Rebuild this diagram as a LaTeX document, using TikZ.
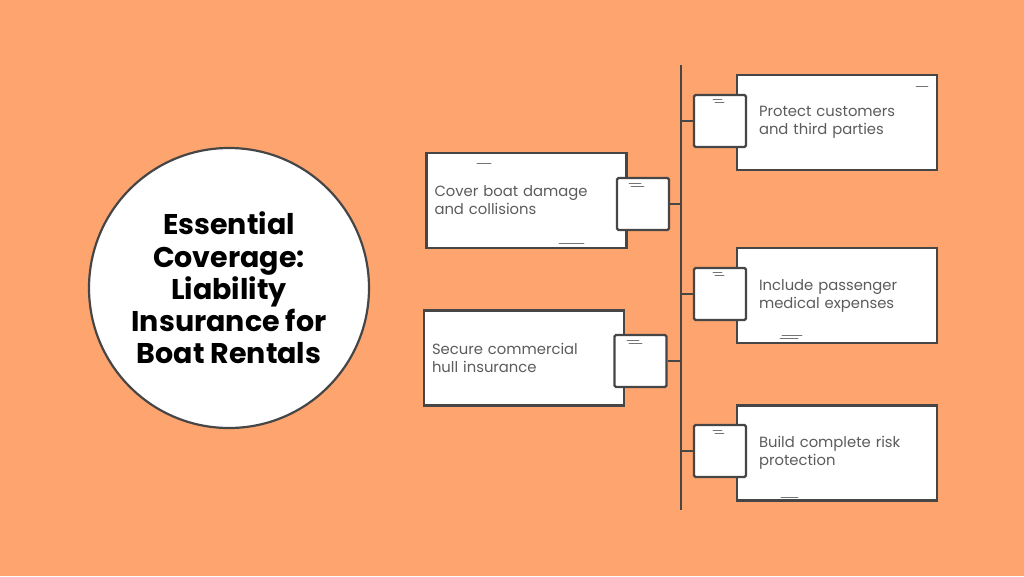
\documentclass[tikz,border=0pt]{standalone}
\usepackage{fontspec}
\setmainfont{Poppins}
\usepackage{tikz}
\definecolor{bg}{HTML}{FDA46F}
\definecolor{ink}{HTML}{464646}
\definecolor{txt}{HTML}{5C5C5C}

\begin{document}
\begin{tikzpicture}[x=1pt, y=-1pt,
        hub/.style={circle, draw=ink, fill=white, line width=2.2pt, minimum size=280pt, align=center, font=\fontsize{28.5}{32.3}\selectfont\bfseries, text=black},
        rbox/.style={draw=ink, fill=white, line width=2.2pt, minimum width=200pt, minimum height=95pt, text width=156pt, inner xsep=22pt, align=left, font=\fontsize{14.8}{18}\selectfont, text=txt},
        lbox/.style={rbox, text width=184pt, inner xsep=8pt},
        tab/.style={draw=ink, fill=white, line width=2.2pt, minimum size=52pt, inner sep=0pt, rounded corners=1.5pt},
        stem/.style={draw=ink, line width=2.2pt},
        scuff/.style={draw=ink!75, line width=0.9pt, line cap=round}]

        \fill[bg] (0,0) rectangle (1024,576);

        \node[hub] (title) at (229,288) {Essential\\Coverage:\\Liability\\Insurance for\\Boat Rentals};

        \coordinate (top) at (681,65);
        \coordinate (bot) at (681,510);
        \coordinate (s1) at (681,121);
        \coordinate (s2) at (681,204);
        \coordinate (s3) at (681,294);
        \coordinate (s4) at (681,361);
        \coordinate (s5) at (681,451);
        \draw[stem] (top) -- (bot);

        \node[rbox] (protect) at (837,122.5) {Protect customers\\and third parties};
        \node[lbox] (cover) at (526.5,200.5) {Cover boat damage\\and collisions};
        \node[rbox] (include) at (837,295.5) {Include passenger\\medical expenses};
        \node[lbox] (secure) at (524,358) {Secure commercial\\hull insurance};
        \node[rbox] (build) at (837,453) {Build complete risk\\protection};

        \node[tab] (t1) at (720,121) {};
        \node[tab] (t2) at (643,204) {};
        \node[tab] (t3) at (720,294) {};
        \node[tab] (t4) at (640.5,361) {};
        \node[tab] (t5) at (720,451) {};

        \draw[stem] (s1) -- (t1.west);
        \draw[stem] (t2.east) -- (s2);
        \draw[stem] (s3) -- (t3.west);
        \draw[stem] (t4.east) -- (s4);
        \draw[stem] (s5) -- (t5.west);

        \draw[scuff] (916,86) -- (928,86);
        \draw[scuff] (713,99) -- (722,99) (715,102) -- (724,102);
        \draw[scuff] (477,163) -- (491,163);
        \draw[scuff] (559,243) -- (584,243);
        \draw[scuff] (629,183) -- (641,183) (631,186) -- (644,186);
        \draw[scuff] (713,272) -- (722,272) (715,275) -- (724,275);
        \draw[scuff] (782,335) -- (802,335) (780,338) -- (798,338);
        \draw[scuff] (627,340) -- (639,340) (629,343) -- (642,343);
        \draw[scuff] (713,430) -- (722,430) (715,433) -- (724,433);
        \draw[scuff] (781,497) -- (798,497);
      \end{tikzpicture}
\end{document}
